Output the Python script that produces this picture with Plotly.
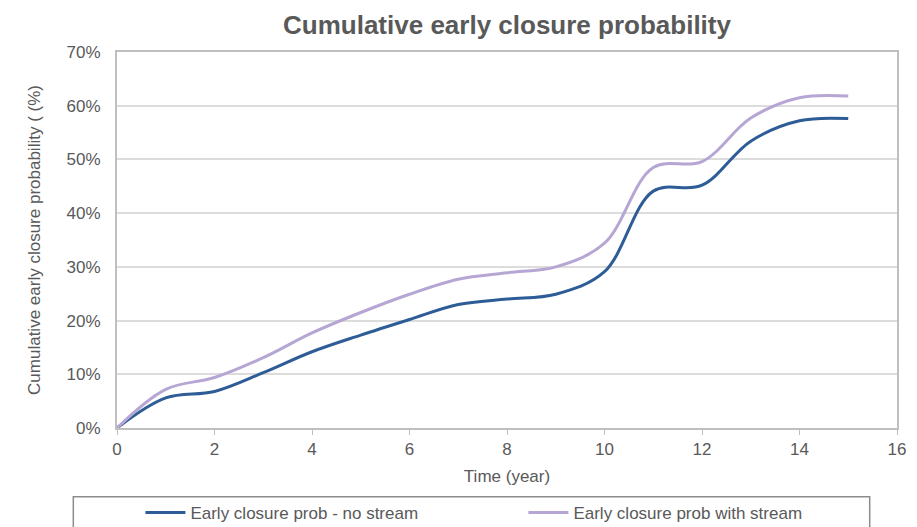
import plotly.graph_objects as go

# Time in years
years = [0, 1, 2, 3, 4, 5, 6, 7, 8, 9, 10, 11, 12, 13, 14, 15]

# Cumulative early closure probability (%)
prob_no_stream = [0, 5.6, 6.8, 10.3, 14.2, 17.3, 20.2, 23.0, 24.0, 24.9, 29.1, 44.1, 45.2, 53.4, 57.2, 57.6]
prob_with_stream = [0, 7.2, 9.4, 13.1, 17.7, 21.5, 24.9, 27.7, 28.9, 30.0, 34.4, 48.5, 49.6, 57.7, 61.5, 61.8]

series_names = ["Early closure prob - no stream", "Early closure prob with stream"]
series_colors = ["#2E5C96", "#B6A6D4"]

font_family = "Liberation Sans, Arial, sans-serif"
text_grey = "#595959"

fig = go.Figure()
for name, vals, color in zip(series_names, [prob_no_stream, prob_with_stream], series_colors):
    fig.add_trace(go.Scatter(
        x=years, y=vals, name=name, mode="lines",
        line=dict(color=color, width=3, shape="spline", smoothing=1.0),
    ))

fig.update_layout(
    width=917, height=527,
    margin=dict(l=117, r=20, t=52, b=99, autoexpand=False),
    paper_bgcolor="white", plot_bgcolor="white",
    font=dict(family=font_family, size=17, color=text_grey),
    title=dict(
        text="<b>Cumulative early closure probability</b>",
        x=0.5, xref="paper", xanchor="center",
        y=0.952, yanchor="middle",
        font=dict(size=26, color=text_grey),
    ),
    showlegend=True,
    legend=dict(
        orientation="h", x=0.03, xanchor="left", y=-0.178, yanchor="top",
        bgcolor="rgba(0,0,0,0)", borderwidth=0,
        font=dict(size=17, color=text_grey),
        entrywidth=328, entrywidthmode="pixels",
        itemwidth=40, tracegroupgap=0,
    ),
    shapes=[dict(
        type="rect", xref="paper", yref="paper",
        x0=-0.056, x1=0.965, y0=-0.183, y1=-0.30,
        line=dict(color="#8C8C8C", width=1.5), fillcolor="rgba(0,0,0,0)",
        layer="below",
    )],
)

fig.update_xaxes(
    range=[0, 16], dtick=2, tick0=0,
    showgrid=False, zeroline=False,
    showline=True, linecolor="#BFBFBF", linewidth=2, mirror=True,
    ticks="outside", ticklen=5, tickcolor="#BFBFBF", tickwidth=1,
    tickfont=dict(size=17, color=text_grey),
    title=dict(text="Time (year)", standoff=12, font=dict(size=17, color=text_grey)),
)
fig.update_yaxes(
    range=[0, 70], dtick=10, tick0=0, ticksuffix="%",
    showgrid=True, gridcolor="#DCDCDC", gridwidth=1.5, zeroline=False,
    showline=True, linecolor="#BFBFBF", linewidth=2, mirror=True,
    ticks="", ticklabelstandoff=11,
    tickfont=dict(size=17, color=text_grey),
    title=dict(text="Cumulative early closure probability ( (%)", standoff=22,
               font=dict(size=17, color=text_grey)),
)

fig.write_html("out.html")
